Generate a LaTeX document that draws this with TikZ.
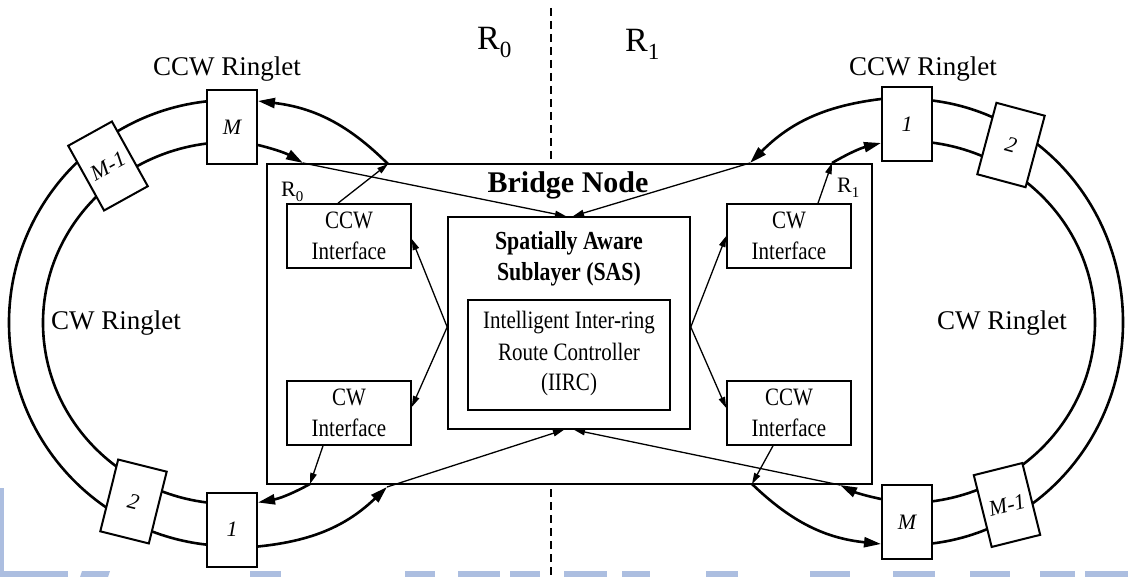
\documentclass[tikz,border=0pt]{standalone}
\usepackage{fontspec}
\setmainfont{Liberation Serif}
\usepackage{graphicx}
\usetikzlibrary{arrows.meta,calc}
\definecolor{wmblue}{RGB}{172,190,224}
\newcommand\nar[1]{\scalebox{0.84}[1]{#1}}
\newcommand\Rsub[1]{R\raisebox{-0.22em}{\scalebox{0.68}{#1}}}
\begin{document}
\begin{tikzpicture}[x=1pt,y=1pt,
  ring/.style={line width=2.6pt},
  thinline/.style={line width=1.3pt},
  bigtip/.style={-{Triangle[length=17pt,width=10pt]}},
  smalltip/.style={-{Triangle[length=11pt,width=6.5pt]}},
  stn/.style={draw,line width=2pt,fill=white,minimum width=50pt,minimum height=74pt,inner sep=0pt,font=\fontsize{22}{26}\selectfont\itshape},
  iface/.style={draw,line width=1.6pt,fill=white,minimum width=124pt,minimum height=64pt,inner sep=0pt},
  txt/.style={anchor=base,inner sep=0pt,font=\fontsize{25}{30}\selectfont},
  btxt/.style={anchor=base,inner sep=0pt,font=\fontsize{26}{30}\selectfont\bfseries},
  ringlbl/.style={anchor=base,inner sep=0pt,font=\fontsize{27}{32}\selectfont},
]
\useasboundingbox (0,0) rectangle (1128,-577);

% faint watermark along the bottom edge
\fill[wmblue] (0,-488) rectangle (4,-577);
\fill[wmblue] (0,-571) rectangle (68,-577);
\fill[wmblue] (82,-571) -- (110,-571) -- (108,-577) -- (80,-577) -- cycle;
\fill[wmblue] (250,-571) rectangle (281,-577);
\fill[wmblue] (405,-571) rectangle (435,-577);
\fill[wmblue] (458,-571) rectangle (500,-577);
\fill[wmblue] (510,-571) rectangle (540,-577);
\fill[wmblue] (564,-571) rectangle (607,-577);
\fill[wmblue] (622,-571) rectangle (650,-577);
\fill[wmblue] (706,-571) rectangle (738,-577);
\fill[wmblue] (810,-571) rectangle (850,-577);
\fill[wmblue] (893,-571) rectangle (935,-577);
\fill[wmblue] (970,-571) rectangle (1010,-577);
\fill[wmblue] (1040,-571) rectangle (1075,-577);
\fill[wmblue] (1085,-571) rectangle (1128,-577);

% dashed divider between the two rings
\draw[line width=2pt,dash pattern=on 8pt off 5pt] (551,-8) -- (551,-577);

% region labels
\node[anchor=base west,inner sep=0pt,font=\fontsize{34}{40}\selectfont] (r0top) at (477,-50) {\Rsub{0}};
\node[anchor=base west,inner sep=0pt,font=\fontsize{34}{40}\selectfont] (r1top) at (625,-52) {\Rsub{1}};

% bridge node
\node[draw,line width=1.6pt,fill=white,minimum width=605pt,minimum height=320pt,inner sep=0pt] (bridge) at (569.5,-324) {};
\node[anchor=base,inner sep=0pt,font=\fontsize{30}{36}\selectfont\bfseries] (title) at (568,-193) {Bridge Node};
\node[anchor=base west,inner sep=0pt,font=\fontsize{22}{26}\selectfont] (r0in) at (281,-197) {\Rsub{0}};
\node[anchor=base west,inner sep=0pt,font=\fontsize{22}{26}\selectfont] (r1in) at (837,-193) {\Rsub{1}};

% spatially aware sublayer and route controller
\node[draw,line width=1.6pt,fill=white,minimum width=242pt,minimum height=212pt,inner sep=0pt] (sas) at (569,-323) {};
\node[btxt] (sas1) at ($(sas.north)+(0,-33)$) {\nar{Spatially Aware}};
\node[btxt] (sas2) at ($(sas.north)+(0,-64)$) {\nar{Sublayer (SAS)}};
\node[draw,line width=2.6pt,minimum width=202pt,minimum height=110pt,inner sep=0pt] (iirc) at (569,-355) {};
\node[txt] (iirc1) at ($(iirc.north)+(0,-30)$) {\nar{Intelligent Inter-ring}};
\node[txt] (iirc2) at ($(iirc.north)+(0,-62)$) {\nar{Route Controller}};
\node[txt] (iirc3) at ($(iirc.north)+(0,-92)$) {\nar{(IIRC)}};

% ringlet interfaces
\node[iface] (lccw) at (349,-236) {};
\node[txt] at ($(lccw.north)+(0,-25)$) {\nar{CCW}};
\node[txt] at ($(lccw.north)+(0,-56)$) {\nar{Interface}};
\node[iface] (lcw) at (349,-413) {};
\node[txt] at ($(lcw.north)+(0,-25)$) {\nar{CW}};
\node[txt] at ($(lcw.north)+(0,-56)$) {\nar{Interface}};
\node[iface] (rcw) at (789,-236) {};
\node[txt] at ($(rcw.north)+(0,-25)$) {\nar{CW}};
\node[txt] at ($(rcw.north)+(0,-56)$) {\nar{Interface}};
\node[iface] (rccw) at (789,-413) {};
\node[txt] at ($(rccw.north)+(0,-25)$) {\nar{CCW}};
\node[txt] at ($(rccw.north)+(0,-56)$) {\nar{Interface}};

% ringlets
\draw[ring] ({231+222*cos(96)},{-323+223*sin(96)}) arc[start angle=96,end angle=264,x radius=222,y radius=223];
\draw[ring] ({231+188*cos(97.3)},{-323+181*sin(97.3)}) arc[start angle=97.3,end angle=262.7,x radius=188,y radius=181];
\draw[ring] ({907+216*cos(-84)},{-322+223*sin(-84)}) arc[start angle=-84,end angle=84,x radius=216,y radius=223];
\draw[ring] ({907+188*cos(-82.4)},{-322+181*sin(-82.4)}) arc[start angle=-82.4,end angle=82.4,x radius=188,y radius=181];

% stations on the ringlets
\node[stn] (lM) at (232,-127) {M};
\node[stn,rotate=29] (lMm) at (108,-166) {M-1};
\node[stn,rotate=-14] (l2) at (133.5,-501.5) {2};
\node[stn] (l1) at (232,-529.5) {1};
\node[stn] (r1) at (907,-124) {1};
\node[stn,rotate=-15] (r2) at (1011,-145) {2};
\node[stn,rotate=14] (rMm) at (1007,-505) {M-1};
\node[stn] (rM) at (907,-522) {M};

% ringlet labels
\node[ringlbl] (ccwl) at (227,-76) {CCW Ringlet};
\node[ringlbl] (ccwr) at (923,-76) {CCW Ringlet};
\node[ringlbl] (cwl) at (116,-330) {CW Ringlet};
\node[ringlbl] (cwr) at (1002,-330) {CW Ringlet};

% points where traffic crosses the bridge boundary
\coordinate (tlA) at (303,-163);
\coordinate (tlB) at (388,-164);
\coordinate (trA) at (750,-163);
\coordinate (trB) at (832,-163);
\coordinate (blA) at (310,-484);
\coordinate (blB) at (387,-487);
\coordinate (brA) at (752,-484);
\coordinate (brB) at (840,-485);
\coordinate (sasL) at ($(sas.west)+(0,-4)$);
\coordinate (sasR) at ($(sas.east)+(0,-4)$);

% ringlet segments entering and leaving the bridge
\draw[ring,bigtip] (tlB) to[bend right=19] ($(lM.north east)+(0,-12)$);
\draw[ring,bigtip] ($(lM.north east)+(0,-56)$) to[bend left=8] (tlA);
\draw[ring,bigtip] (blA) to[bend left=9] ($(l1.north east)+(0,-11)$);
\draw[ring,bigtip] ($(l1.north east)+(0,-55)$) to[bend right=19] (blB);
\draw[ring,bigtip] ($(r1.north west)+(0,-13)$) to[bend right=19] (trA);
\draw[ring,bigtip] (trB) to[bend left=8] ($(r1.north west)+(0,-57)$);
\draw[ring,bigtip] (brA) to[bend right=19] ($(rM.north west)+(0,-60)$);
\draw[ring,bigtip] ($(rM.north west)+(0,-15)$) to[bend left=7] (brB);

% traffic to the sublayer
\draw[thinline,smalltip] (tlA) -- ($(sas.north)+(-3,0)$);
\draw[thinline,smalltip] (trA) -- ($(sas.north)+(4,0)$);
\draw[thinline,smalltip] (blB) -- ($(sas.south)+(-5,0)$);
\draw[thinline,smalltip] (brB) -- ($(sas.south)+(5,0)$);

% traffic from the sublayer to the interfaces
\draw[thinline,smalltip] (sasL) -- ($(lccw.east)+(0,-3)$);
\draw[thinline,smalltip] (sasL) -- ($(lcw.east)+(0,6)$);
\draw[thinline,smalltip] (sasR) -- (rcw.west);
\draw[thinline,smalltip] (sasR) -- ($(rccw.west)+(0,5)$);

% interfaces onto the ringlets
\draw[thinline,smalltip] ($(lccw.north)+(-11,0)$) -- (tlB);
\draw[thinline,smalltip] ($(rcw.north)+(29,0)$) -- (trB);
\draw[thinline,smalltip] ($(lcw.south)+(-26,0)$) -- (blA);
\draw[thinline,smalltip] ($(rccw.south)+(-16,0)$) -- (brA);
\end{tikzpicture}
\end{document}
